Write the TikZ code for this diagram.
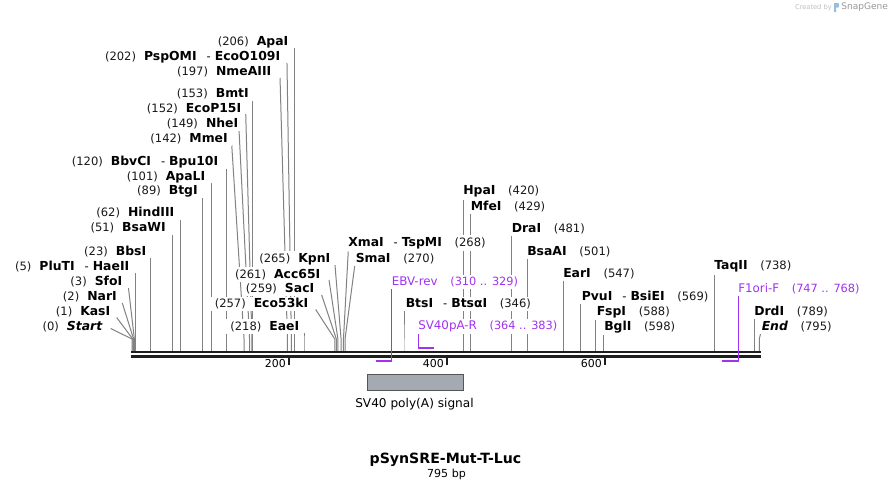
\documentclass[tikz,border=0pt]{standalone}
\usepackage{fontspec}
\setmainfont{DejaVu Sans}
\definecolor{mkgray}{RGB}{130,130,130}
\definecolor{prim}{RGB}{160,50,240}
\definecolor{featfill}{RGB}{165,170,178}
\definecolor{featdraw}{RGB}{85,85,85}
\definecolor{bbcol}{RGB}{30,30,30}
\definecolor{postext}{RGB}{25,25,25}
\definecolor{logoblue}{RGB}{150,190,225}
\pgfdeclarelayer{lines}
\pgfsetlayers{lines,main}
\newcommand\psn[1]{{\fontsize{8.65}{10}\selectfont\color{postext}(#1)}}
\newcommand\enz[1]{{\fontsize{9.3}{10}\selectfont\bfseries #1}}
\newcommand\prm[1]{{\fontsize{8.9}{10}\selectfont\color{prim}#1}}
\newcommand\prmr[1]{{\fontsize{8.5}{10}\selectfont\color{prim}#1}}
\newcommand\gapL{\hspace{6pt}}
\newcommand\gapR{\hspace{9.5pt}}
\newcommand\dsh{\hspace{7.5pt}{\fontsize{8.65}{10}\selectfont-}\hspace{3pt}}
\newcommand\mk[4]{%
  \coordinate (#1s) at ({132+0.789*#2},351);
  \coordinate (#1t) at ({132+0.789*#2+#3},#4);
  \begin{pgfonlayer}{lines}\draw[mkline] (#1s) -- ++(0,-12) -- (#1t);\end{pgfonlayer}}
\newcommand\lblL[4]{\node[lbl,anchor=east] (#1) at ({#2+4},#3) {#4};}
\newcommand\lblR[4]{\node[lbl,anchor=west] (#1) at ({#2-4},#3) {#4};}
\tikzset{
  mkline/.style={draw=mkgray,line width=0.75pt},
  lbl/.style={fill=white,inner xsep=3pt,inner ysep=1.5pt,text=black},
  bbline/.style={draw=bbcol,line width=1.75pt},
  tickline/.style={draw=bbcol,line width=1.5pt},
  primline/.style={draw=prim,line width=0.9pt},
  primbar/.style={draw=prim,line width=1.6pt},
  feat/.style={draw=featdraw,fill=featfill,line width=0.75pt},
}
\begin{document}
\begin{tikzpicture}[x=0.75pt,y=-0.75pt]
\begin{pgfonlayer}{lines}
\fill[white] (0,0) rectangle (893,490);
\end{pgfonlayer}
\useasboundingbox (0,0) rectangle (893,490);
% markers
\mk{ApaI}{206}{0}{48}
\mk{PspOMI}{202}{-4.4}{63}
\mk{NmeAIII}{197}{-7.4}{78}
\mk{BmtI}{153}{0}{100}
\mk{EcoP}{152}{-6.2}{114}
\mk{NheI}{149}{-10.6}{129}
\mk{MmeI}{142}{-12.3}{145}
\mk{BbvCI}{120}{0}{169}
\mk{ApaLI}{101}{0}{183}
\mk{BtgI}{89}{0}{198}
\mk{HindIII}{62}{0}{220}
\mk{BsaWI}{51}{0}{235}
\mk{BbsI}{23}{0}{258}
\mk{PluTI}{5}{0}{273}
\mk{SfoI}{3}{-5.9}{288}
\mk{NarI}{2}{-11.3}{303}
\mk{KasI}{1}{-16.1}{317.5}
\mk{Start}{0}{-21.3}{328.5}
\mk{KpnI}{265}{-6.1}{265}
\mk{AccI}{261}{-8.9}{280}
\mk{SacI}{259}{-14.7}{295}
\mk{EcoK}{257}{-19.1}{309.5}
\mk{EaeI}{218}{0}{332.5}
\mk{XmaI}{268}{4.8}{251.5}
\mk{SmaI}{270}{10}{263.5}
\mk{BtsI}{346}{0}{311}
\mk{HpaI}{420}{0}{198.5}
\mk{MfeI}{429}{0}{213.5}
\mk{DraI}{481}{0}{235}
\mk{BsaAI}{501}{0}{258.5}
\mk{EarI}{547}{0}{280}
\mk{PvuI}{569}{0}{304}
\mk{FspI}{588}{0}{318.5}
\mk{BglI}{598}{0}{332}
\mk{TaqII}{738}{0}{273.5}
\mk{DrdI}{789}{0}{318.5}
\mk{End}{795}{1.4}{333.5}
% primers
\coordinate (ebvA) at (376,360.7);
\coordinate (ebvB) at (391.7,360.7);
\coordinate (ebvT) at (391.7,287.5);
\coordinate (ebvE) at (391.7,361.5);
\coordinate (svA) at (418.3,347.6);
\coordinate (svB) at (434,347.6);
\coordinate (svT) at (418.3,332.3);
\coordinate (svE) at (418.3,348.4);
\coordinate (f1A) at (721.5,360.7);
\coordinate (f1B) at (738.3,360.7);
\coordinate (f1T) at (738.3,295);
\coordinate (f1E) at (738.3,361.5);
% backbone
\coordinate (bbL1) at (131,352.2);
\coordinate (bbR1) at (761,352.2);
\coordinate (bbL2) at (131,356.4);
\coordinate (bbR2) at (761,356.4);
\draw[bbline] (bbL1) -- (bbR1);
\draw[bbline] (bbL2) -- (bbR2);
\draw[primline] (ebvT) -- (ebvE);
\draw[primbar] (ebvA) -- (ebvB);
\draw[primline] (svT) -- (svE);
\draw[primbar] (svA) -- (svB);
\draw[primline] (f1T) -- (f1E);
\draw[primbar] (f1A) -- (f1B);
% ticks
\coordinate (t2a) at (289,357.5); \coordinate (t2b) at (289,365);
\coordinate (t4a) at (447,357.5); \coordinate (t4b) at (447,365);
\coordinate (t6a) at (605,357.5); \coordinate (t6b) at (605,365);
\draw[tickline] (t2a) -- (t2b);
\draw[tickline] (t4a) -- (t4b);
\draw[tickline] (t6a) -- (t6b);
\node[anchor=east,inner sep=0pt,font=\fontsize{8.2}{10}\selectfont] (tl2) at (286,364) {200};
\node[anchor=east,inner sep=0pt,font=\fontsize{8.2}{10}\selectfont] (tl4) at (444,364) {400};
\node[anchor=east,inner sep=0pt,font=\fontsize{8.2}{10}\selectfont] (tl6) at (602,364) {600};
% feature
\draw[feat] (367.7,374.3) rectangle (463.3,390.7);
\node[inner sep=0pt,font=\fontsize{9.1}{10}\selectfont] (svlbl) at (414.5,404) {SV40 poly(A) signal};
% left labels
\lblL{lApaI}{288.5}{42}{\psn{206}\gapL\enz{ApaI}}
\lblL{lPsp}{280.5}{57}{\psn{202}\gapL\enz{PspOMI}\dsh\enz{EcoO109I}}
\lblL{lNme}{271.5}{72}{\psn{197}\gapL\enz{NmeAIII}}
\lblL{lBmt}{249}{94}{\psn{153}\gapL\enz{BmtI}}
\lblL{lEcoP}{241.5}{109}{\psn{152}\gapL\enz{EcoP15I}}
\lblL{lNhe}{238.5}{124}{\psn{149}\gapL\enz{NheI}}
\lblL{lMme}{228}{139}{\psn{142}\gapL\enz{MmeI}}
\lblL{lBbv}{218.5}{162}{\psn{120}\gapL\enz{BbvCI}\dsh\enz{Bpu10I}}
\lblL{lApaL}{205.5}{177}{\psn{101}\gapL\enz{ApaLI}}
\lblL{lBtg}{198}{191.5}{\psn{89}\gapL\enz{BtgI}}
\lblL{lHind}{174.5}{213}{\psn{62}\gapL\enz{HindIII}}
\lblL{lBsaW}{166}{228}{\psn{51}\gapL\enz{BsaWI}}
\lblL{lBbs}{146.5}{252}{\psn{23}\gapL\enz{BbsI}}
\lblL{lPlu}{129.5}{267}{\psn{5}\gapL\enz{PluTI}\dsh\enz{HaeII}}
\lblL{lSfo}{122.5}{282}{\psn{3}\gapL\enz{SfoI}}
\lblL{lNar}{117}{297}{\psn{2}\gapL\enz{NarI}}
\lblL{lKas}{110.5}{311.5}{\psn{1}\gapL\enz{KasI}}
\lblL{lStart}{102.5}{327}{\psn{0}\gapL\enz{\itshape Start}}
\lblL{lKpn}{330.5}{259}{\psn{265}\gapL\enz{KpnI}}
\lblL{lAcc}{320.5}{274.5}{\psn{261}\gapL\enz{Acc65I}}
\lblL{lSac}{314.5}{289}{\psn{259}\gapL\enz{SacI}}
\lblL{lEco53}{308.5}{304}{\psn{257}\gapL\enz{Eco53kI}}
\lblL{lEae}{299.5}{326.7}{\psn{218}\gapL\enz{EaeI}}
% right labels
\lblR{rXma}{348}{243.3}{\enz{XmaI}\dsh\enz{TspMI}\gapR\psn{268}}
\lblR{rSma}{355.5}{259}{\enz{SmaI}\gapR\psn{270}}
\lblR{rEBV}{391.5}{281.7}{\prm{EBV-rev}\gapR\prmr{(310 .. 329)}}
\lblR{rBts}{405.5}{304}{\enz{BtsI}\dsh\enz{BtsαI}\gapR\psn{346}}
\lblR{rSV}{418}{326.7}{\prm{SV40pA-R}\gapR\prmr{(364 .. 383)}}
\lblR{rHpa}{463}{191.7}{\enz{HpaI}\gapR\psn{420}}
\lblR{rMfe}{470.5}{206.7}{\enz{MfeI}\gapR\psn{429}}
\lblR{rDra}{511.5}{229}{\enz{DraI}\gapR\psn{481}}
\lblR{rBsaA}{527}{251.7}{\enz{BsaAI}\gapR\psn{501}}
\lblR{rEar}{563}{274}{\enz{EarI}\gapR\psn{547}}
\lblR{rPvu}{581.5}{296.7}{\enz{PvuI}\dsh\enz{BsiEI}\gapR\psn{569}}
\lblR{rFsp}{596.5}{312.3}{\enz{FspI}\gapR\psn{588}}
\lblR{rBgl}{604}{326.7}{\enz{BglI}\gapR\psn{598}}
\lblR{rTaq}{714}{266.7}{\enz{TaqII}\gapR\psn{738}}
\lblR{rF1}{738}{289}{\prm{F1ori-F}\gapR\prmr{(747 .. 768)}}
\lblR{rDrd}{754}{311.7}{\enz{DrdI}\gapR\psn{789}}
\lblR{rEnd}{761.5}{326.7}{\enz{\itshape End}\gapR\psn{795}}
% title
\node[inner sep=0pt,font=\fontsize{10.6}{12}\selectfont\bfseries] (title) at (445.5,459.3) {pSynSRE-Mut-T-Luc};
\node[inner sep=0pt,font=\fontsize{8.3}{10}\selectfont] (bp) at (446.5,474.3) {795 bp};
% watermark
\node[anchor=east,inner sep=0pt,text=black!25,font=\fontsize{5}{6}\selectfont] (wm1) at (832,7.5) {Created by};
\fill[logoblue] (834,3) -- (838,3) .. controls (839.5,3) and (839.5,7.5) .. (838,7.5) -- (836,7.5) -- (836,12) -- (834,12) -- cycle;
\node[anchor=west,inner sep=0pt,text=black!40,font=\fontsize{6.8}{8}\selectfont] (wm2) at (841,7.5) {SnapGene};
\end{tikzpicture}
\end{document}
